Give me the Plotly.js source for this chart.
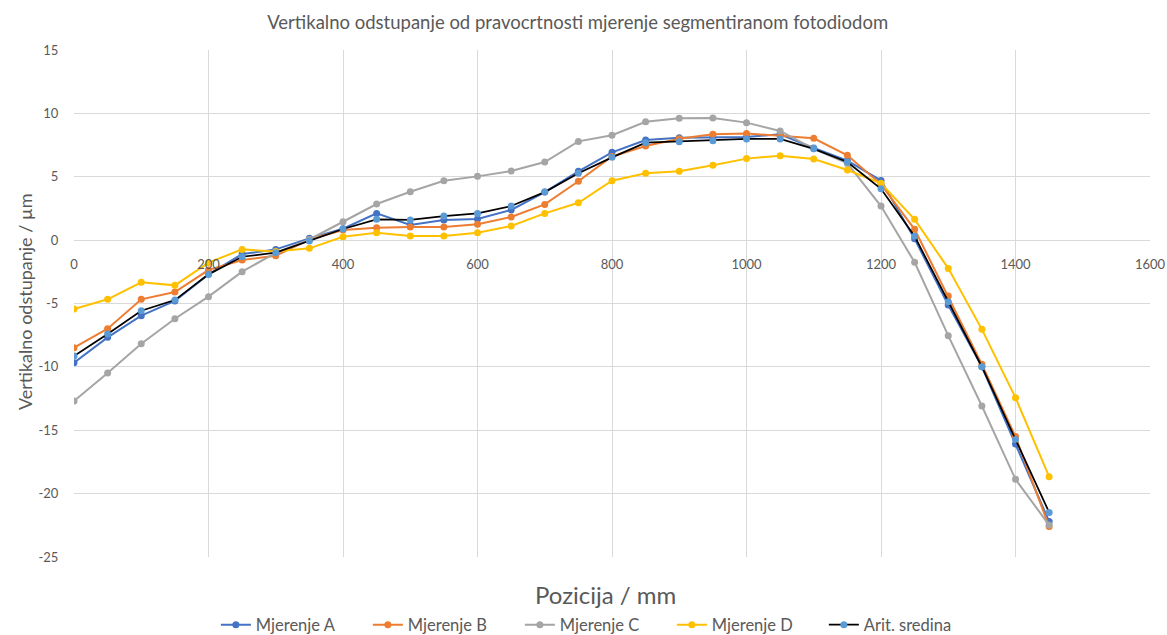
<!DOCTYPE html>
<html>
<head>
<meta charset="utf-8">
<script src="https://cdn.plot.ly/plotly-3.0.1.min.js"></script>
<style>html,body{margin:0;padding:0;background:#fff;}#chart{width:1167px;height:635px;}</style>
</head>
<body>
<div id="chart"></div>
<script>
const positions = [0,50,100,150,200,250,300,350,400,450,500,550,600,650,700,750,800,850,900,950,1000,1050,1100,1150,1200,1250,1300,1350,1400,1450];
const mjerenjeA = [-9.67,-7.67,-5.96,-4.80,-2.70,-1.10,-0.73,0.14,0.90,2.11,1.19,1.59,1.67,2.38,3.79,5.43,6.93,7.90,8.08,8.11,8.14,8.35,7.27,6.27,4.70,0.10,-5.12,-9.99,-16.09,-22.20];
const mjerenjeB = [-8.49,-6.99,-4.67,-4.09,-2.36,-1.57,-1.23,0.05,0.80,0.98,1.03,1.03,1.25,1.82,2.82,4.64,6.60,7.42,8.00,8.35,8.42,8.20,8.03,6.69,4.40,0.85,-4.41,-9.80,-15.50,-22.60];
const mjerenjeC = [-12.70,-10.49,-8.17,-6.20,-4.46,-2.49,-1.00,0.05,1.45,2.85,3.82,4.69,5.03,5.45,6.16,7.79,8.27,9.34,9.61,9.63,9.27,8.61,7.20,6.05,2.69,-1.75,-7.54,-13.09,-18.87,-22.48];
const mjerenjeD = [-5.44,-4.67,-3.33,-3.57,-1.78,-0.73,-0.90,-0.65,0.27,0.59,0.32,0.32,0.59,1.11,2.11,2.95,4.69,5.27,5.43,5.90,6.43,6.66,6.40,5.53,4.48,1.64,-2.23,-7.04,-12.43,-18.66];
const aritSredina = [-9.14,-7.41,-5.57,-4.73,-2.70,-1.31,-0.99,-0.07,0.88,1.64,1.59,1.90,2.11,2.69,3.79,5.27,6.53,7.69,7.77,7.85,7.98,7.98,7.20,6.16,4.05,0.30,-4.86,-9.99,-15.72,-21.48];
const seriesNames = ['Mjerenje A','Mjerenje B','Mjerenje C','Mjerenje D','Arit. sredina'];
const xTicks = [0,200,400,600,800,1000,1200,1400,1600];
const yTicks = [-25,-20,-15,-10,-5,0,5,10,15];

const lineColors = ['#4472C4','#ED7D31','#A5A5A5','#FFC000','#000000'];
const markerColors = ['#4472C4','#ED7D31','#A5A5A5','#FFC000','#5B9BD5'];
const allSeries = [mjerenjeA, mjerenjeB, mjerenjeC, mjerenjeD, aritSredina];

const traces = allSeries.map((vals, i) => ({
  x: positions, y: vals, type: 'scatter', mode: 'lines+markers',
  name: seriesNames[i],
  line: {color: lineColors[i], width: i === 4 ? 1.75 : 2},
  marker: {color: markerColors[i], size: 7},
  hoverinfo: 'skip'
}));

const gray = '#595959';
const layout = {
  width: 1167, height: 635,
  margin: {l: 74, r: 17, t: 50, b: 78, autoexpand: false},
  paper_bgcolor: '#fff', plot_bgcolor: '#fff',
  font: {family: 'Lato, "Open Sans", sans-serif', color: gray},
  title: {text: 'Vertikalno odstupanje od pravocrtnosti mjerenje segmentiranom fotodiodom',
          font: {size: 18.5, color: gray}, x: 0.495, xanchor: 'center', y: 0.965, yanchor: 'middle'},
  showlegend: true,
  legend: {orientation: 'h', x: 0.485, xanchor: 'center', y: -0.134, yanchor: 'middle',
           font: {size: 16.5, color: gray}, traceorder: 'normal',
           entrywidth: 107, entrywidthmode: 'pixels'},
  xaxis: {range: [0,1600], tickvals: xTicks, ticktext: xTicks.map(String),
          showgrid: true, gridcolor: '#d9d9d9', gridwidth: 1, zeroline: false,
          showline: false, ticks: 'outside', ticklen: 12, tickcolor: 'rgba(0,0,0,0)',
          anchor: 'free', position: 0.625,
          tickfont: {size: 13, color: gray}, fixedrange: true},
  yaxis: {range: [-25,15], tickvals: yTicks, ticktext: yTicks.map(String),
          showgrid: true, gridcolor: '#d9d9d9', gridwidth: 1,
          zeroline: true, zerolinecolor: '#d9d9d9', zerolinewidth: 1,
          showline: false, ticks: 'outside', ticklen: 12, tickcolor: 'rgba(0,0,0,0)',
          tickfont: {size: 13, color: gray}, fixedrange: true},
  annotations: [
    {text: 'Pozicija / mm', xref: 'paper', yref: 'paper', x: 0.4935, y: -0.073,
     xanchor: 'center', yanchor: 'middle', showarrow: false,
     font: {size: 24, color: gray}},
    {text: 'Vertikalno odstupanje / µm', xref: 'paper', yref: 'paper', x: -0.0455, y: 0.503,
     xanchor: 'center', yanchor: 'middle', textangle: -90, showarrow: false,
     font: {size: 18, color: gray}}
  ]
};
Plotly.newPlot('chart', traces, layout, {displayModeBar: false, staticPlot: true});
</script>
</body>
</html>
